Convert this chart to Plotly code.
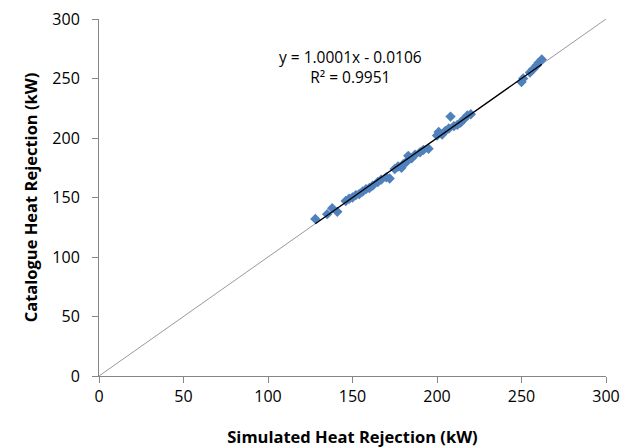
import plotly.graph_objects as go

sim_kw = [128, 135, 138, 141, 146, 148, 150, 152, 154, 156, 158, 160, 162,
          165, 167, 170, 172, 175, 177, 179, 180, 182, 183, 185, 187, 190, 192, 195,
          200, 201, 203, 205, 207, 208, 210, 212, 214, 216, 218, 220,
          250, 251, 255, 257, 259, 260, 262]
cat_kw = [132, 136, 141, 138, 147, 149, 150, 152, 153, 155, 157, 158, 160,
          163, 165, 167, 166, 174, 176, 175, 178, 180, 185, 183, 186, 188, 190, 191,
          202, 205, 203, 206, 208, 218, 210, 211, 213, 216, 219, 220,
          247, 250, 255, 258, 261, 263, 266]
slope = 1.0001
intercept = -0.0106
ref_line = [0, 300]
ticks = [0, 50, 100, 150, 200, 250, 300]

font = "Open Sans, Liberation Sans, sans-serif"
fig = go.Figure()
fig.add_trace(go.Scatter(x=ref_line, y=ref_line, mode="lines",
                         line=dict(color="#999999", width=1), hoverinfo="skip"))
fig.add_trace(go.Scatter(x=sim_kw, y=cat_kw, mode="markers",
                         marker=dict(symbol="diamond", size=8, color="#4F81BD")))
x0, x1 = min(sim_kw), max(sim_kw)
fig.add_trace(go.Scatter(x=[x0, x1], y=[slope * x0 + intercept, slope * x1 + intercept],
                         mode="lines", line=dict(color="black", width=1.3)))

fig.add_annotation(x=0.497, y=0.866, xref="paper", yref="paper", showarrow=False,
                   text="y = 1.0001x - 0.0106<br>R² = 0.9951", align="center",
                   font=dict(family=font, size=15.5, color="black"), yanchor="middle")

axis_common = dict(range=[0, 300], tickvals=ticks, showgrid=False, zeroline=False,
                   showline=True, linecolor="#868686", linewidth=1,
                   ticks="outside", ticklen=6, tickcolor="#868686", automargin=False,
                   tickfont=dict(family=font, size=16, color="black"))
fig.update_xaxes(**axis_common, title=dict(text="<b>Simulated Heat Rejection (kW)</b>",
                 font=dict(family=font, size=16.5, color="black"), standoff=27))
fig.update_yaxes(**axis_common, ticklabelstandoff=9,
                 title=dict(text="<b>Catalogue Heat Rejection (kW)</b>",
                 font=dict(family=font, size=16.5, color="black"), standoff=10))
fig.update_layout(width=623, height=448, showlegend=False,
                  margin=dict(l=99, r=17, t=19, b=72),
                  plot_bgcolor="white", paper_bgcolor="white")
fig.write_html("out.html", config={"displayModeBar": False},
               post_script="document.body.style.margin='0';document.body.style.overflow='hidden';")
